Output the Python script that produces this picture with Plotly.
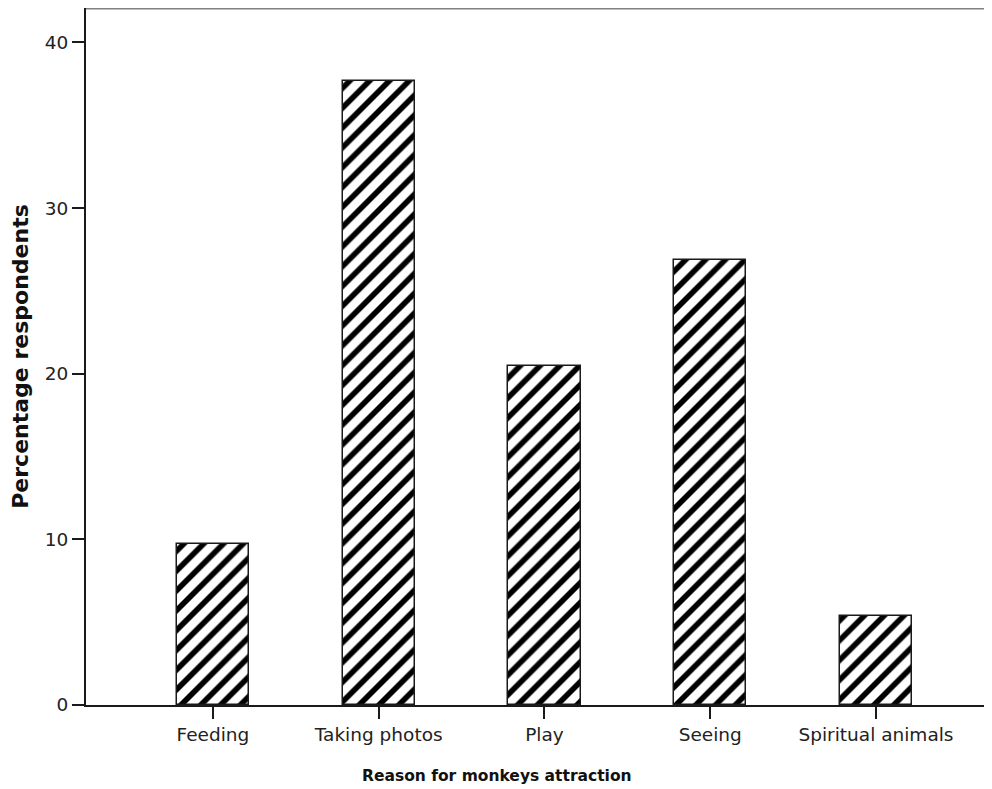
import plotly.graph_objects as go

categories = ["Feeding", "Taking photos", "Play", "Seeing", "Spiritual animals"]
percentages = [9.7, 37.65, 20.45, 26.85, 5.4]
y_ticks = [0, 10, 20, 30, 40]
x_title = "Reason for monkeys attraction"
y_title = "Percentage respondents"

fig = go.Figure()
fig.add_trace(go.Bar(
    x=categories,
    y=percentages,
    width=0.435,
    marker=dict(
        color="white",
        line=dict(color="#1a1a1a", width=1.5),
        pattern=dict(shape="/", fgcolor="#000000", fgopacity=1, bgcolor="white",
                     size=14, solidity=0.4),
    ),
    hoverinfo="skip",
))

tick_font = dict(family="DejaVu Sans", size=18.5, color="#222222")

# page body has an 8px margin, so the figure is offset by (8, 8)
fig.update_layout(
    width=984,
    height=781,
    margin=dict(l=78, r=0, t=0, b=84, autoexpand=False),
    plot_bgcolor="white",
    paper_bgcolor="white",
    showlegend=False,
    bargap=0,
    xaxis=dict(
        type="category",
        range=[-0.766, 4.70],
        automargin=False,
        showgrid=False,
        zeroline=False,
        showline=True,
        linecolor="#1a1a1a",
        linewidth=2,
        ticks="outside",
        ticklen=12,
        tickwidth=1.5,
        tickcolor="#1a1a1a",
        tickfont=tick_font,
    ),
    yaxis=dict(
        range=[0, 42.08],
        tickvals=y_ticks,
        automargin=False,
        showgrid=False,
        zeroline=False,
        showline=True,
        linecolor="#1a1a1a",
        linewidth=2,
        ticks="outside",
        ticklen=12,
        tickwidth=1.5,
        tickcolor="#1a1a1a",
        tickfont=tick_font,
        title=dict(text=y_title,
                   font=dict(family="DejaVu Sans", size=22, color="#111111", weight="bold")),
    ),
    annotations=[dict(
        text=x_title, xref="paper", yref="paper", x=0.4536, y=-0.1019,
        xanchor="center", yanchor="middle", showarrow=False,
        font=dict(family="DejaVu Sans", size=15.5, color="#111111", weight="bold"),
    )],
    shapes=[dict(type="line", xref="paper", yref="paper", x0=0, x1=1, y0=1, y1=1,
                 line=dict(color="#808080", width=3))],
)

fig.write_html("out.html")
